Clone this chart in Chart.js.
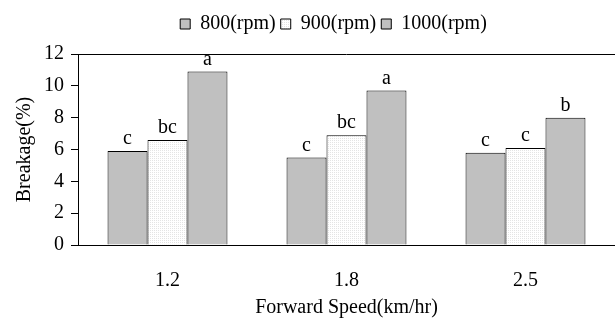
<!DOCTYPE html>
<html>
<head>
<meta charset="utf-8">
<script src="https://cdn.jsdelivr.net/npm/chart.js@4/dist/chart.umd.min.js"></script>
<style>
    html, body { margin: 0; padding: 0; background: #fff; }
    #wrap { width: 615px; height: 320px; }
</style>
</head>
<body>
<div id="wrap"><canvas id="breakageChart" width="615" height="320"></canvas></div>
<script>
// Chart data
const speeds = ['1.2', '1.8', '2.5'];
const seriesNames = ['800(rpm)', '900(rpm)', '1000(rpm)'];
const breakage800 = [5.9, 5.5, 5.8];
const breakage900 = [6.6, 6.9, 6.1];
const breakage1000 = [10.9, 9.7, 8.0];
const letters800 = ['c', 'c', 'c'];
const letters900 = ['bc', 'bc', 'c'];
const letters1000 = ['a', 'a', 'b'];
const yTicks = [0, 2, 4, 6, 8, 10, 12];

const serif = "'Liberation Serif', 'Times New Roman', serif";

// faint dotted fill used for the 900 rpm bars
function dotPattern() {
    const c = document.createElement('canvas');
    c.width = 2;
    c.height = 2;
    const g = c.getContext('2d');
    g.fillStyle = '#ffffff';
    g.fillRect(0, 0, 2, 2);
    g.fillStyle = '#e4e4e4';
    g.fillRect(0, 0, 1, 1);
    return g.createPattern(c, 'repeat');
}

// letters above the bars
const barLetters = {
    id: 'barLetters',
    afterDatasetsDraw(chart) {
        const ctx = chart.ctx;
        ctx.save();
        ctx.font = '20px ' + serif;
        ctx.fillStyle = '#000';
        ctx.textAlign = 'center';
        ctx.textBaseline = 'bottom';
        chart.data.datasets.forEach((ds, i) => {
            const meta = chart.getDatasetMeta(i);
            meta.data.forEach((bar, j) => {
                ctx.fillText(ds.letters[j], bar.x, bar.y - 2);
            });
        });
        ctx.restore();
    }
};

// top frame line
const topLine = {
    id: 'topLine',
    afterDraw(chart) {
        const a = chart.chartArea;
        const ctx = chart.ctx;
        ctx.save();
        ctx.strokeStyle = '#000';
        ctx.lineWidth = 1;
        ctx.beginPath();
        ctx.moveTo(a.left, a.top + 0.5);
        ctx.lineTo(a.right, a.top + 0.5);
        ctx.stroke();
        ctx.restore();
    }
};

// more room under the legend, and nudge it a little to the left
const legendTweak = {
    id: 'legendTweak',
    beforeInit(chart) {
        const origFit = chart.legend.fit;
        chart.legend.fit = function() {
            origFit.call(this);
            this.height += 10;
        };
    },
    afterLayout(chart) {
        chart.legend.left -= 13;
        chart.legend.right -= 13;
    }
};

const ctx = document.getElementById('breakageChart').getContext('2d');
const pattern = dotPattern();

new Chart(ctx, {
    type: 'bar',
    data: {
        labels: speeds,
        datasets: [
            { label: seriesNames[0], data: breakage800, letters: letters800, backgroundColor: '#c0c0c0' },
            { label: seriesNames[1], data: breakage900, letters: letters900, backgroundColor: pattern },
            { label: seriesNames[2], data: breakage1000, letters: letters1000, backgroundColor: '#c0c0c0' }
        ].map(ds => Object.assign(ds, {
            borderColor: '#000',
            borderWidth: 1,
            borderSkipped: 'bottom',
            categoryPercentage: 0.67,
            barPercentage: 1.0
        }))
    },
    options: {
        responsive: false,
        animation: false,
        layout: { padding: { top: 9, right: 0, bottom: 0, left: 13 } },
        plugins: {
            legend: {
                position: 'top',
                fullSize: false,
                labels: {
                    color: '#000',
                    font: { family: serif, size: 20 },
                    boxWidth: 10,
                    boxHeight: 10,
                    padding: 5
                }
            },
            tooltip: { enabled: false }
        },
        scales: {
            x: {
                afterFit: scale => { scale.height = 75; },
                grid: { display: false, drawTicks: false },
                border: { display: true, color: '#000', width: 1 },
                ticks: { color: '#000', font: { family: serif, size: 20 }, padding: 24 },
                title: { display: true, text: 'Forward Speed(km/hr)', color: '#000', font: { family: serif, size: 20 }, padding: { top: 0, bottom: 0 } }
            },
            y: {
                min: 0,
                max: 12,
                afterBuildTicks: scale => { scale.ticks = yTicks.map(v => ({ value: v })); },
                grid: { drawOnChartArea: false, drawTicks: true, tickLength: 7, color: '#000' },
                border: { display: true, color: '#000', width: 1 },
                ticks: { color: '#000', font: { family: serif, size: 20 }, padding: 7 },
                title: { display: true, text: 'Breakage(%)', color: '#000', font: { family: serif, size: 20 }, padding: { top: 0, bottom: 0 } }
            }
        }
    },
    plugins: [barLetters, topLine, legendTweak]
});
</script>
</body>
</html>
